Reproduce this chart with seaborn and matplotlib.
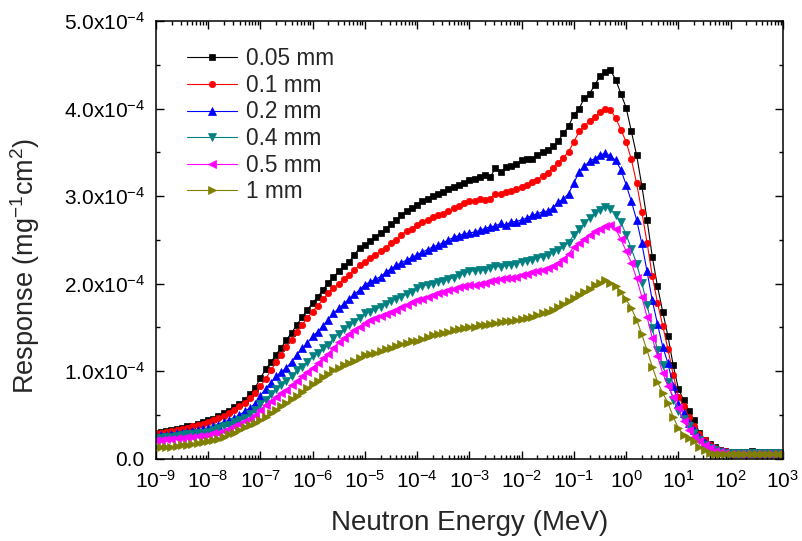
import numpy as np
import pandas as pd
import seaborn as sns
import matplotlib.pyplot as plt
from matplotlib.ticker import FixedLocator, FixedFormatter, LogLocator, NullFormatter

# log10 of neutron energy (MeV), one point per tenth of a decade
log_energy = [
    -9.0, -8.9, -8.8, -8.7, -8.6, -8.5, -8.4, -8.3, -8.2, -8.1,
    -8.0, -7.9, -7.8, -7.7, -7.6, -7.5, -7.4, -7.3, -7.2, -7.1,
    -7.0, -6.9, -6.8, -6.7, -6.6, -6.5, -6.4, -6.3, -6.2, -6.1,
    -6.0, -5.9, -5.8, -5.7, -5.6, -5.5, -5.4, -5.3, -5.2, -5.1,
    -5.0, -4.9, -4.8, -4.7, -4.6, -4.5, -4.4, -4.3, -4.2, -4.1,
    -4.0, -3.9, -3.8, -3.7, -3.6, -3.5, -3.4, -3.3, -3.2, -3.1,
    -3.0, -2.9, -2.8, -2.7, -2.6, -2.5, -2.4, -2.3, -2.2, -2.1,
    -2.0, -1.9, -1.8, -1.7, -1.6, -1.5, -1.4, -1.3, -1.2, -1.1,
    -1.0, -0.9, -0.8, -0.7, -0.6, -0.5, -0.4, -0.3, -0.2, -0.1,
    0.0, 0.1, 0.2, 0.3, 0.4, 0.5, 0.6, 0.7, 0.8, 0.9,
    1.0, 1.1, 1.2, 1.3, 1.4, 1.5, 1.6, 1.7, 1.8, 1.9,
    2.0, 2.1, 2.2, 2.3, 2.4, 2.5, 2.6, 2.7, 2.8, 2.9, 3.0,
]

# responses in units of 1e-4 mg^-1 cm^2
resp_005 = [
    0.30, 0.31, 0.32, 0.33, 0.34, 0.35, 0.37, 0.38, 0.40, 0.42,
    0.44, 0.46, 0.49, 0.52, 0.55, 0.59, 0.63, 0.67, 0.74, 0.81,
    0.92, 1.02, 1.10, 1.19, 1.27, 1.36, 1.44, 1.53, 1.62, 1.70,
    1.78, 1.85, 1.93, 2.01, 2.08, 2.14, 2.20, 2.25, 2.33, 2.41,
    2.44, 2.49, 2.53, 2.58, 2.63, 2.68, 2.73, 2.79, 2.83, 2.87,
    2.90, 2.95, 2.97, 3.00, 3.03, 3.05, 3.08, 3.10, 3.13, 3.15,
    3.18, 3.20, 3.22, 3.24, 3.22, 3.32, 3.28, 3.33, 3.34, 3.37,
    3.41, 3.43, 3.43, 3.47, 3.50, 3.53, 3.57, 3.63, 3.72, 3.80,
    3.93, 4.00, 4.12, 4.17, 4.27, 4.37, 4.42, 4.44, 4.33, 4.17,
    4.01, 3.74, 3.47, 3.12, 2.73, 2.31, 1.97, 1.68, 1.40, 1.07,
    0.80, 0.67, 0.55, 0.44, 0.30, 0.22, 0.17, 0.13, 0.10, 0.09,
    0.08, 0.08, 0.08, 0.08, 0.09, 0.08, 0.08, 0.08, 0.08, 0.08, 0.08,
]
resp_01 = [
    0.29, 0.30, 0.31, 0.32, 0.33, 0.34, 0.35, 0.37, 0.39, 0.40,
    0.42, 0.44, 0.47, 0.49, 0.52, 0.56, 0.60, 0.64, 0.69, 0.75,
    0.83, 0.91, 1.01, 1.10, 1.19, 1.28, 1.36, 1.45, 1.53, 1.61,
    1.68, 1.75, 1.82, 1.89, 1.95, 2.00, 2.05, 2.10, 2.16, 2.21,
    2.25, 2.29, 2.33, 2.37, 2.41, 2.46, 2.50, 2.56, 2.60, 2.63,
    2.67, 2.70, 2.73, 2.76, 2.79, 2.80, 2.83, 2.86, 2.89, 2.92,
    2.94, 2.95, 2.97, 2.96, 2.97, 3.03, 3.03, 3.05, 3.06, 3.08,
    3.11, 3.13, 3.16, 3.19, 3.23, 3.27, 3.32, 3.38, 3.44, 3.51,
    3.62, 3.74, 3.80, 3.86, 3.90, 3.96, 4.00, 3.99, 3.89, 3.76,
    3.62, 3.42, 3.15, 2.82, 2.47, 2.09, 1.78, 1.52, 1.25, 0.96,
    0.71, 0.60, 0.48, 0.37, 0.28, 0.21, 0.16, 0.12, 0.10, 0.09,
    0.08, 0.08, 0.08, 0.08, 0.08, 0.08, 0.08, 0.08, 0.08, 0.08, 0.08,
]
resp_02 = [
    0.26, 0.27, 0.27, 0.28, 0.29, 0.30, 0.31, 0.32, 0.33, 0.34,
    0.35, 0.37, 0.39, 0.42, 0.44, 0.47, 0.50, 0.54, 0.58, 0.63,
    0.72, 0.80, 0.87, 0.94, 0.99, 1.04, 1.11, 1.19, 1.26, 1.32,
    1.40, 1.45, 1.52, 1.59, 1.66, 1.72, 1.77, 1.83, 1.88, 1.93,
    1.99, 2.02, 2.05, 2.08, 2.13, 2.17, 2.21, 2.24, 2.27, 2.30,
    2.33, 2.36, 2.39, 2.42, 2.44, 2.47, 2.50, 2.53, 2.55, 2.57,
    2.58, 2.59, 2.61, 2.63, 2.65, 2.66, 2.69, 2.67, 2.71, 2.71,
    2.73, 2.75, 2.78, 2.80, 2.82, 2.83, 2.87, 2.93, 2.97, 3.03,
    3.15, 3.28, 3.34, 3.40, 3.43, 3.47, 3.49, 3.46, 3.41, 3.30,
    3.13, 2.94, 2.73, 2.46, 2.14, 1.81, 1.54, 1.28, 1.09, 0.83,
    0.63, 0.52, 0.41, 0.33, 0.25, 0.19, 0.14, 0.11, 0.09, 0.08,
    0.07, 0.07, 0.07, 0.07, 0.07, 0.07, 0.07, 0.07, 0.07, 0.07, 0.07,
]
resp_04 = [
    0.24, 0.24, 0.25, 0.25, 0.26, 0.27, 0.28, 0.28, 0.29, 0.30,
    0.31, 0.33, 0.35, 0.37, 0.39, 0.42, 0.44, 0.47, 0.51, 0.56,
    0.62, 0.67, 0.74, 0.80, 0.84, 0.89, 0.94, 1.01, 1.05, 1.11,
    1.17, 1.21, 1.26, 1.30, 1.38, 1.43, 1.48, 1.53, 1.56, 1.61,
    1.66, 1.68, 1.71, 1.73, 1.77, 1.80, 1.83, 1.85, 1.88, 1.91,
    1.95, 1.97, 1.99, 2.00, 2.02, 2.03, 2.05, 2.07, 2.10, 2.12,
    2.14, 2.15, 2.16, 2.16, 2.18, 2.20, 2.19, 2.21, 2.21, 2.23,
    2.25, 2.26, 2.27, 2.29, 2.31, 2.33, 2.36, 2.39, 2.43, 2.47,
    2.56, 2.62, 2.69, 2.75, 2.81, 2.84, 2.88, 2.85, 2.79, 2.70,
    2.56, 2.40, 2.23, 2.01, 1.76, 1.49, 1.24, 1.07, 0.88, 0.67,
    0.55, 0.45, 0.37, 0.29, 0.22, 0.16, 0.12, 0.10, 0.08, 0.07,
    0.065, 0.065, 0.065, 0.065, 0.065, 0.065, 0.065, 0.065, 0.065, 0.065, 0.065,
]
resp_05 = [
    0.22, 0.22, 0.23, 0.23, 0.24, 0.24, 0.25, 0.25, 0.26, 0.26,
    0.27, 0.29, 0.30, 0.32, 0.34, 0.37, 0.40, 0.43, 0.46, 0.50,
    0.56, 0.61, 0.66, 0.71, 0.75, 0.79, 0.84, 0.89, 0.94, 0.99,
    1.04, 1.09, 1.15, 1.20, 1.27, 1.33, 1.38, 1.43, 1.47, 1.51,
    1.55, 1.58, 1.61, 1.63, 1.65, 1.68, 1.70, 1.73, 1.76, 1.79,
    1.81, 1.83, 1.85, 1.87, 1.89, 1.91, 1.93, 1.94, 1.96, 1.97,
    1.99, 1.99, 2.00, 2.01, 2.03, 2.04, 2.05, 2.06, 2.07, 2.08,
    2.10, 2.11, 2.13, 2.15, 2.16, 2.18, 2.20, 2.24, 2.28, 2.34,
    2.42, 2.46, 2.51, 2.56, 2.60, 2.63, 2.66, 2.67, 2.62, 2.51,
    2.37, 2.24, 2.06, 1.85, 1.62, 1.38, 1.17, 0.98, 0.83, 0.71,
    0.58, 0.43, 0.33, 0.25, 0.20, 0.16, 0.12, 0.09, 0.08, 0.07,
    0.06, 0.06, 0.06, 0.06, 0.06, 0.06, 0.06, 0.06, 0.06, 0.06, 0.06,
]
resp_1 = [
    0.13, 0.13, 0.14, 0.14, 0.15, 0.16, 0.16, 0.17, 0.18, 0.19,
    0.20, 0.22, 0.23, 0.25, 0.28, 0.30, 0.33, 0.36, 0.39, 0.41,
    0.44, 0.48, 0.52, 0.56, 0.60, 0.64, 0.68, 0.72, 0.76, 0.81,
    0.85, 0.89, 0.93, 0.97, 1.01, 1.04, 1.07, 1.09, 1.12, 1.15,
    1.18, 1.20, 1.21, 1.23, 1.25, 1.27, 1.29, 1.31, 1.32, 1.34,
    1.35, 1.37, 1.39, 1.41, 1.43, 1.44, 1.45, 1.47, 1.48, 1.49,
    1.50, 1.51, 1.53, 1.53, 1.54, 1.55, 1.56, 1.57, 1.57, 1.58,
    1.60, 1.61, 1.62, 1.64, 1.66, 1.68, 1.70, 1.73, 1.77, 1.80,
    1.84, 1.87, 1.91, 1.94, 1.98, 2.01, 2.04, 2.01, 1.97, 1.91,
    1.82, 1.72, 1.59, 1.42, 1.24, 1.05, 0.88, 0.75, 0.64, 0.48,
    0.35, 0.27, 0.24, 0.20, 0.14, 0.10, 0.07, 0.06, 0.05, 0.05,
    0.05, 0.05, 0.05, 0.05, 0.05, 0.05, 0.05, 0.05, 0.05, 0.05, 0.05,
]

labels = ['0.05 mm', '0.1 mm', '0.2 mm', '0.4 mm', '0.5 mm', '1 mm']
colors = ['#000000', '#FF0000', '#0000FF', '#008080', '#FF00FF', '#808000']
markers = ['s', 'o', '^', 'v', '<', '>']
marker_sizes = [4.3, 4.6, 5.2, 5.2, 5.2, 5.2]

y_ticks = [0.0, 1e-4, 2e-4, 3e-4, 4e-4, 5e-4]
y_tick_labels = ['0.0', '1.0x10$^{-4}$', '2.0x10$^{-4}$', '3.0x10$^{-4}$',
                 '4.0x10$^{-4}$', '5.0x10$^{-4}$']
x_decades = [-9, -8, -7, -6, -5, -4, -3, -2, -1, 0, 1, 2, 3]

series = [resp_005, resp_01, resp_02, resp_04, resp_05, resp_1]
for s in series:
    assert len(s) == len(log_energy)

# build a long-form table
frames = []
for lab, vals in zip(labels, series):
    frames.append(pd.DataFrame({
        'energy': 10.0 ** np.array(log_energy),
        'response': np.array(vals) * 1e-4,
        'thickness': lab,
    }))
df = pd.concat(frames, ignore_index=True)

sns.set_style('ticks')
plt.rcParams['font.family'] = ['Liberation Sans', 'DejaVu Sans']
plt.rcParams['mathtext.default'] = 'regular'

fig = plt.figure(figsize=(8.03, 5.41), dpi=100)
ax = fig.add_axes([0.194, 0.152, 0.781, 0.809])

for lab, c, m, ms in zip(labels, colors, markers, marker_sizes):
    sub = df[df['thickness'] == lab]
    sns.lineplot(data=sub, x='energy', y='response', color=c, marker=m,
                 markersize=ms, markeredgecolor=c, markeredgewidth=0.5,
                 linewidth=0.8, label=lab, ax=ax)

ax.set_xscale('log')
ax.set_xlim(1e-9, 1e3)
ax.set_ylim(0, 5e-4)

ax.xaxis.set_major_locator(FixedLocator([10.0 ** d for d in x_decades]))
ax.xaxis.set_major_formatter(FixedFormatter(['10$^{%d}$' % d for d in x_decades]))
ax.xaxis.set_minor_locator(LogLocator(base=10, subs=np.arange(2, 10), numticks=100))
ax.xaxis.set_minor_formatter(NullFormatter())

ax.yaxis.set_major_locator(FixedLocator(y_ticks))
ax.yaxis.set_major_formatter(FixedFormatter(y_tick_labels))
ax.yaxis.set_minor_locator(FixedLocator([0.5e-4, 1.5e-4, 2.5e-4, 3.5e-4, 4.5e-4]))

ax.tick_params(which='both', direction='in', top=True, right=True, width=1.0, colors='black')
ax.tick_params(which='major', length=5.8)
ax.tick_params(which='minor', length=3.2)
ax.tick_params(axis='y', which='major', labelsize=15, pad=8)
ax.tick_params(axis='x', which='major', labelsize=15, pad=8)

for sp in ax.spines.values():
    sp.set_visible(True)
    sp.set_linewidth(1.1)
    sp.set_color('black')

ax.set_xlabel('Neutron Energy (MeV)', fontsize=20, labelpad=13)
ax.set_ylabel('Response (mg$^{-1}$cm$^{2}$)', fontsize=19.5)
ax.yaxis.set_label_coords(-0.182, 0.44)

ax.legend(loc='upper left', bbox_to_anchor=(0.035, 0.961), frameon=False,
          fontsize=16.3, handlelength=2.2, handletextpad=0.4, labelspacing=0.16,
          borderaxespad=0)

plt.savefig('out.png', dpi=100)
